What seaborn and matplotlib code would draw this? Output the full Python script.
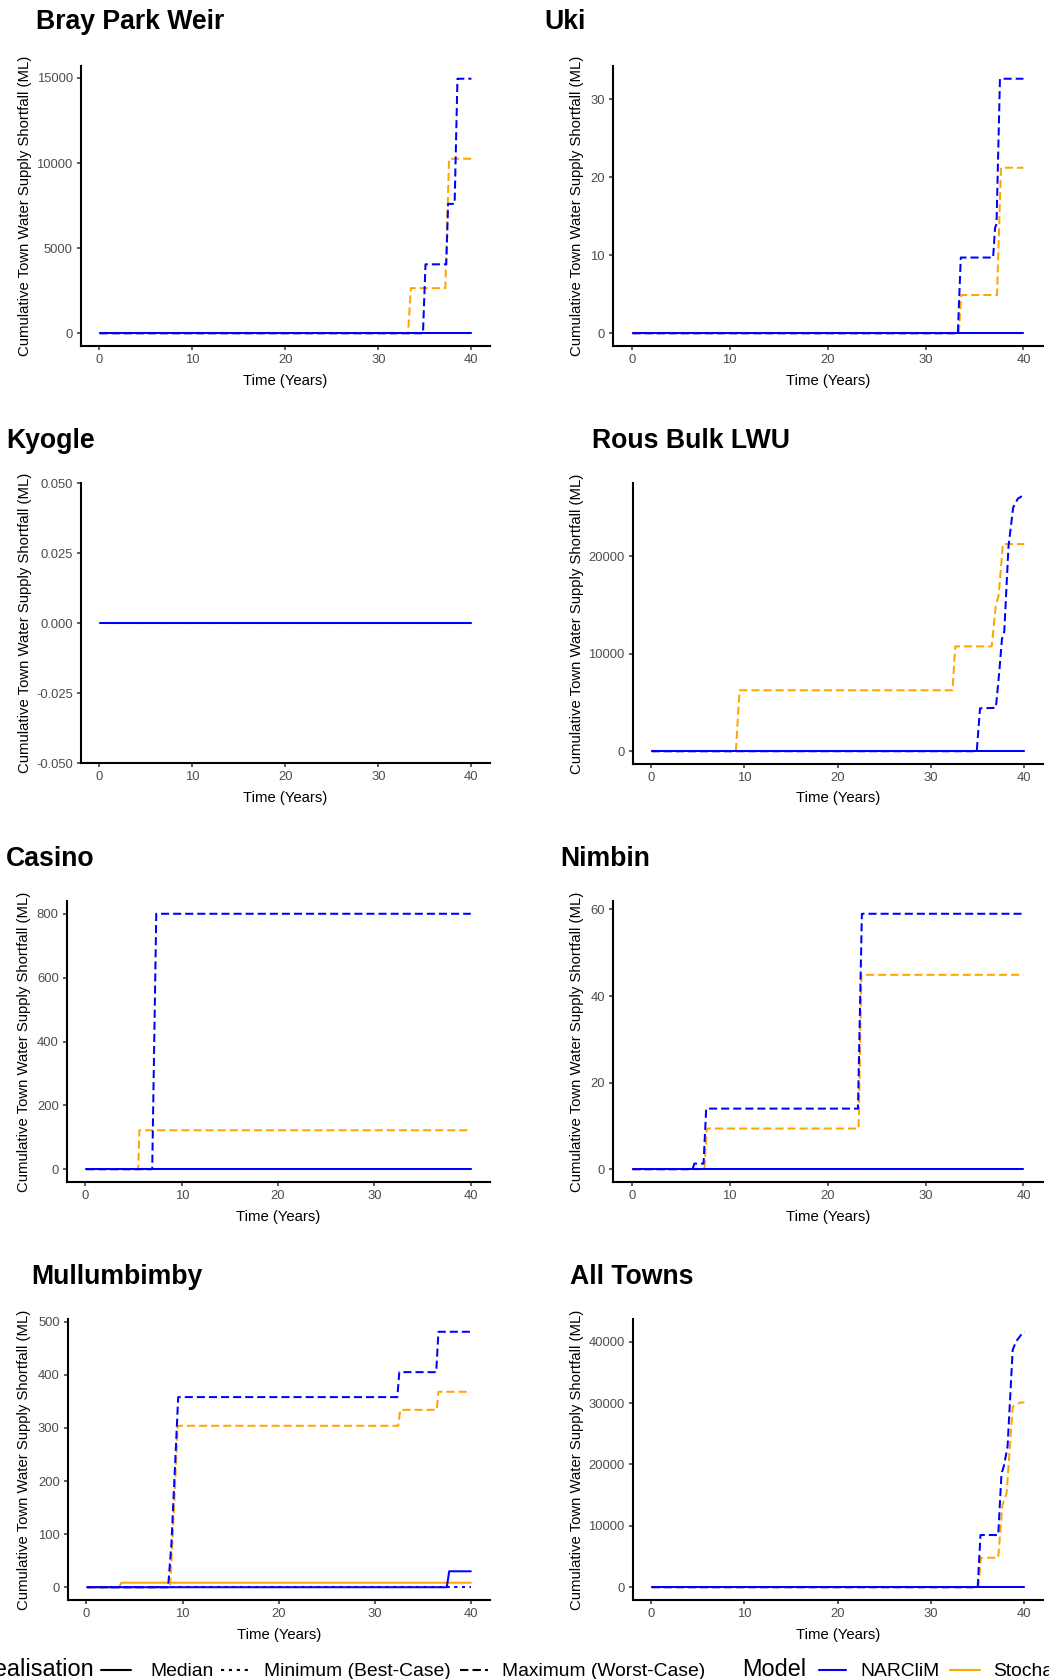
import matplotlib
matplotlib.use("Agg")
import matplotlib.pyplot as plt
import numpy as np
import pandas as pd
import seaborn as sns
from matplotlib.lines import Line2D
from matplotlib.ticker import FormatStrFormatter

sns.set_style("white")
plt.rcParams["font.family"] = ["Liberation Sans", "DejaVu Sans"]
plt.rcParams["axes.unicode_minus"] = False

# ---------------------------------------------------------------- data
# Cumulative town water supply shortfall (ML) as (time in years, value) breakpoints.
T0, T1 = 0.08, 40.0  # first and last simulated month

flat_zero = [(T0, 0.0), (T1, 0.0)]

bray_narclim_max = [(T0, 0), (34.8, 0), (35.07, 4050), (37.3, 4050), (37.5, 7600),
                    (38.2, 7600), (38.5, 14950), (40.0, 14950)]
bray_stoch_max = [(T0, 0), (33.2, 0), (33.5, 2650), (37.2, 2650), (37.6, 10250), (40.0, 10250)]

uki_narclim_max = [(T0, 0), (33.3, 0), (33.6, 9.7), (36.9, 9.7), (37.1, 13.5), (37.25, 14.0),
                   (37.6, 32.6), (40.0, 32.6)]
uki_stoch_max = [(T0, 0), (33.4, 0), (33.65, 4.9), (37.3, 4.9), (37.7, 21.2), (40.0, 21.2)]

rous_narclim_max = [(T0, 0), (34.9, 0), (35.25, 4400), (36.95, 4450), (37.3, 8000),
                    (37.6, 11500), (37.85, 12300), (38.3, 21000), (38.8, 25000),
                    (39.3, 25900), (39.8, 26200), (40.0, 26200)]
rous_stoch_max = [(T0, 0), (9.1, 0), (9.5, 6250), (32.3, 6250), (32.6, 10750), (36.5, 10750),
                  (36.95, 15000), (37.25, 16000), (37.7, 21250), (40.0, 21250)]

casino_narclim_max = [(T0, 0), (6.93, 0), (7.35, 800), (40.0, 800)]
casino_stoch_max = [(T0, 0), (5.47, 0), (5.6, 122), (40.0, 122)]

nimbin_narclim_max = [(T0, 0), (6.2, 0), (6.4, 1.3), (7.33, 1.3), (7.6, 14.0), (23.1, 14.0),
                      (23.5, 59.0), (40.0, 59.0)]
nimbin_stoch_max = [(T0, 0), (7.42, 0), (7.66, 9.4), (23.17, 9.4), (23.45, 44.9), (40.0, 44.9)]

mull_narclim_max = [(T0, 0), (8.5, 0), (8.85, 83), (9.55, 358), (32.35, 358), (32.56, 405),
                    (36.4, 405), (36.63, 481), (40.0, 481)]
mull_stoch_max = [(T0, 0), (8.7, 0), (8.95, 85), (9.25, 200), (9.5, 304), (32.45, 304),
                  (32.65, 334), (36.45, 334), (36.63, 368), (40.0, 368)]
mull_narclim_median = [(T0, 0), (37.5, 0), (37.75, 30), (40.0, 30)]
mull_stoch_median = [(T0, 0), (3.4, 0), (3.65, 8.5), (40.0, 8.5)]

all_narclim_max = [(T0, 0), (35.0, 0), (35.3, 8500), (37.2, 8500), (37.55, 18500),
                   (37.8, 19700), (38.2, 22900), (38.75, 38650), (39.1, 40000),
                   (39.9, 41600), (40.0, 41600)]
all_stoch_max = [(T0, 0), (35.07, 0), (35.35, 4800), (37.2, 4800), (37.65, 13400),
                 (38.1, 15300), (38.75, 29400), (39.5, 30050), (40.0, 30100)]

MODELS = ["NARCliM", "Stochastic"]
REALISATIONS = ["Median", "Minimum (Best-Case)", "Maximum (Worst-Case)"]

towns = ["Bray Park Weir", "Uki", "Kyogle", "Rous Bulk LWU",
         "Casino", "Nimbin", "Mullumbimby", "All Towns"]

# series per town: (NARCliM median, min, max, Stochastic median, min, max)
town_series = {
    "Bray Park Weir": (flat_zero, flat_zero, bray_narclim_max, flat_zero, flat_zero, bray_stoch_max),
    "Uki": (flat_zero, flat_zero, uki_narclim_max, flat_zero, flat_zero, uki_stoch_max),
    "Kyogle": (flat_zero, flat_zero, flat_zero, flat_zero, flat_zero, flat_zero),
    "Rous Bulk LWU": (flat_zero, flat_zero, rous_narclim_max, flat_zero, flat_zero, rous_stoch_max),
    "Casino": (flat_zero, flat_zero, casino_narclim_max, flat_zero, flat_zero, casino_stoch_max),
    "Nimbin": (flat_zero, flat_zero, nimbin_narclim_max, flat_zero, flat_zero, nimbin_stoch_max),
    "Mullumbimby": (mull_narclim_median, flat_zero, mull_narclim_max,
                    mull_stoch_median, flat_zero, mull_stoch_max),
    "All Towns": (flat_zero, flat_zero, all_narclim_max, flat_zero, flat_zero, all_stoch_max),
}

y_breaks = {
    "Bray Park Weir": [0, 5000, 10000, 15000],
    "Uki": [0, 10, 20, 30],
    "Kyogle": [-0.05, -0.025, 0.0, 0.025, 0.05],
    "Rous Bulk LWU": [0, 10000, 20000],
    "Casino": [0, 200, 400, 600, 800],
    "Nimbin": [0, 20, 40, 60],
    "Mullumbimby": [0, 100, 200, 300, 400, 500],
    "All Towns": [0, 10000, 20000, 30000, 40000],
}

# ---------------------------------------------------------------- layout (pixels)
W, H, DPI = 1049, 1679, 100
# axes box: left, right, top, bottom ; title: x, baseline ; y-label centre x
layout = {
    "Bray Park Weir": ((81, 490, 66, 346), (36, 29), 25),
    "Uki": ((613, 1043, 66, 346), (544, 29), 577),
    "Kyogle": ((81, 490, 483, 763), (6, 448), 25),
    "Rous Bulk LWU": ((633, 1043, 483, 764), (592, 448), 577),
    "Casino": ((67, 490, 901, 1182), (6, 866), 24),
    "Nimbin": ((613, 1043, 901, 1182), (560, 866), 577),
    "Mullumbimby": ((68, 490, 1319, 1600), (31, 1284), 24),
    "All Towns": ((633, 1043, 1319, 1600), (570, 1284), 577),
}

PX = 0.72  # points per pixel at 100 dpi
palette = {"NARCliM": "#0000FF", "Stochastic": "#FFA500"}
dash_map = {"Median": "", "Minimum (Best-Case)": (1.5, 2.3), "Maximum (Worst-Case)": (4, 2)}
LW = 1.45

fig = plt.figure(figsize=(W / DPI, H / DPI), dpi=DPI)
fig.patch.set_facecolor("white")


def town_frame(name):
    rows = []
    series = town_series[name]
    k = 0
    for model in MODELS:
        for real in REALISATIONS:
            pts = series[k]
            k += 1
            t, v = zip(*pts)
            rows.append(pd.DataFrame({"Time": t, "Shortfall": v,
                                      "Model": model, "Realisation": real}))
    return pd.concat(rows, ignore_index=True)


for name in towns:
    (l, r, t, b), (tx, ty), ylab_x = layout[name]
    w, h = r - l, b - t
    ax = fig.add_axes([l / W, 1 - b / H, w / W, h / H])
    df = town_frame(name)

    sns.lineplot(data=df, x="Time", y="Shortfall", hue="Model", style="Realisation",
                 hue_order=["Stochastic", "NARCliM"],
                 style_order=["Maximum (Worst-Case)", "Minimum (Best-Case)", "Median"],
                 palette=palette, dashes=dash_map, estimator=None, sort=False,
                 legend=False, linewidth=LW, ax=ax)

    # ggplot-style 5% expansion
    tmin, tmax = df["Time"].min(), df["Time"].max()
    ax.set_xlim(tmin - 0.05 * (tmax - tmin), tmax + 0.05 * (tmax - tmin))
    vmin, vmax = df["Shortfall"].min(), df["Shortfall"].max()
    if vmax - vmin == 0:
        ax.set_ylim(vmin - 0.05, vmax + 0.05)
    else:
        rng = vmax - vmin
        ax.set_ylim(vmin - 0.05 * rng, vmax + 0.05 * rng)

    ax.set_xticks([0, 10, 20, 30, 40])
    ax.set_yticks(y_breaks[name])
    if name == "Kyogle":
        ax.yaxis.set_major_formatter(FormatStrFormatter("%.3f"))

    for s in ["top", "right"]:
        ax.spines[s].set_visible(False)
    for s in ["left", "bottom"]:
        ax.spines[s].set_linewidth(1.5)
        ax.spines[s].set_color("black")
    ax.grid(False)
    ax.set_facecolor("white")
    ax.tick_params(axis="both", length=3.7 * PX, width=1.1, color="#333333",
                   labelcolor="#4D4D4D", labelsize=13.0 * PX, pad=3.3,
                   left=True, bottom=True)

    ax.set_xlabel("Time (Years)", fontsize=14.9 * PX, color="black")
    ax.set_ylabel("Cumulative Town Water Supply Shortfall (ML)", fontsize=14.9 * PX,
                  color="black")
    ax.xaxis.label.set_va("center")
    ax.xaxis.set_label_coords(0.5, -34.5 / h)
    ax.yaxis.label.set_va("center")
    ax.yaxis.set_label_coords((ylab_x - l) / w, 0.5)

    fig.text(tx / W, 1 - ty / H, name, fontsize=26.6 * PX, fontweight="bold",
             ha="left", va="baseline", color="black")

# ---------------------------------------------------------------- legend strip
LEG_BASE = 1676.5
LEG_LINE = 1669.5


def leg_text(x, s, size, ha="left"):
    fig.text(x / W, 1 - LEG_BASE / H, s, fontsize=size * PX, ha=ha, va="baseline",
             color="black")


def leg_key(x0, x1, color, dashes):
    ln = Line2D([x0 / W, x1 / W], [1 - LEG_LINE / H] * 2, transform=fig.transFigure,
                color=color, linewidth=1.5)
    if dashes:
        ln.set_dashes(dashes)
    fig.add_artist(ln)


leg_text(94, "Realisation", 23.5, ha="right")
leg_key(101, 131, "black", "")
leg_text(150, "Median", 19.3)
leg_key(221, 249, "black", dash_map["Minimum (Best-Case)"])
leg_text(264, "Minimum (Best-Case)", 19.3)
leg_key(460, 488, "black", dash_map["Maximum (Worst-Case)"])
leg_text(502, "Maximum (Worst-Case)", 19.3)
leg_text(742, "Model", 23.5)
leg_key(819, 846, palette["NARCliM"], "")
leg_text(860, "NARCliM", 19.3)
leg_key(950, 980, palette["Stochastic"], "")
leg_text(993, "Stochastic", 19.3)

fig.savefig("out.png", dpi=DPI, facecolor="white")
